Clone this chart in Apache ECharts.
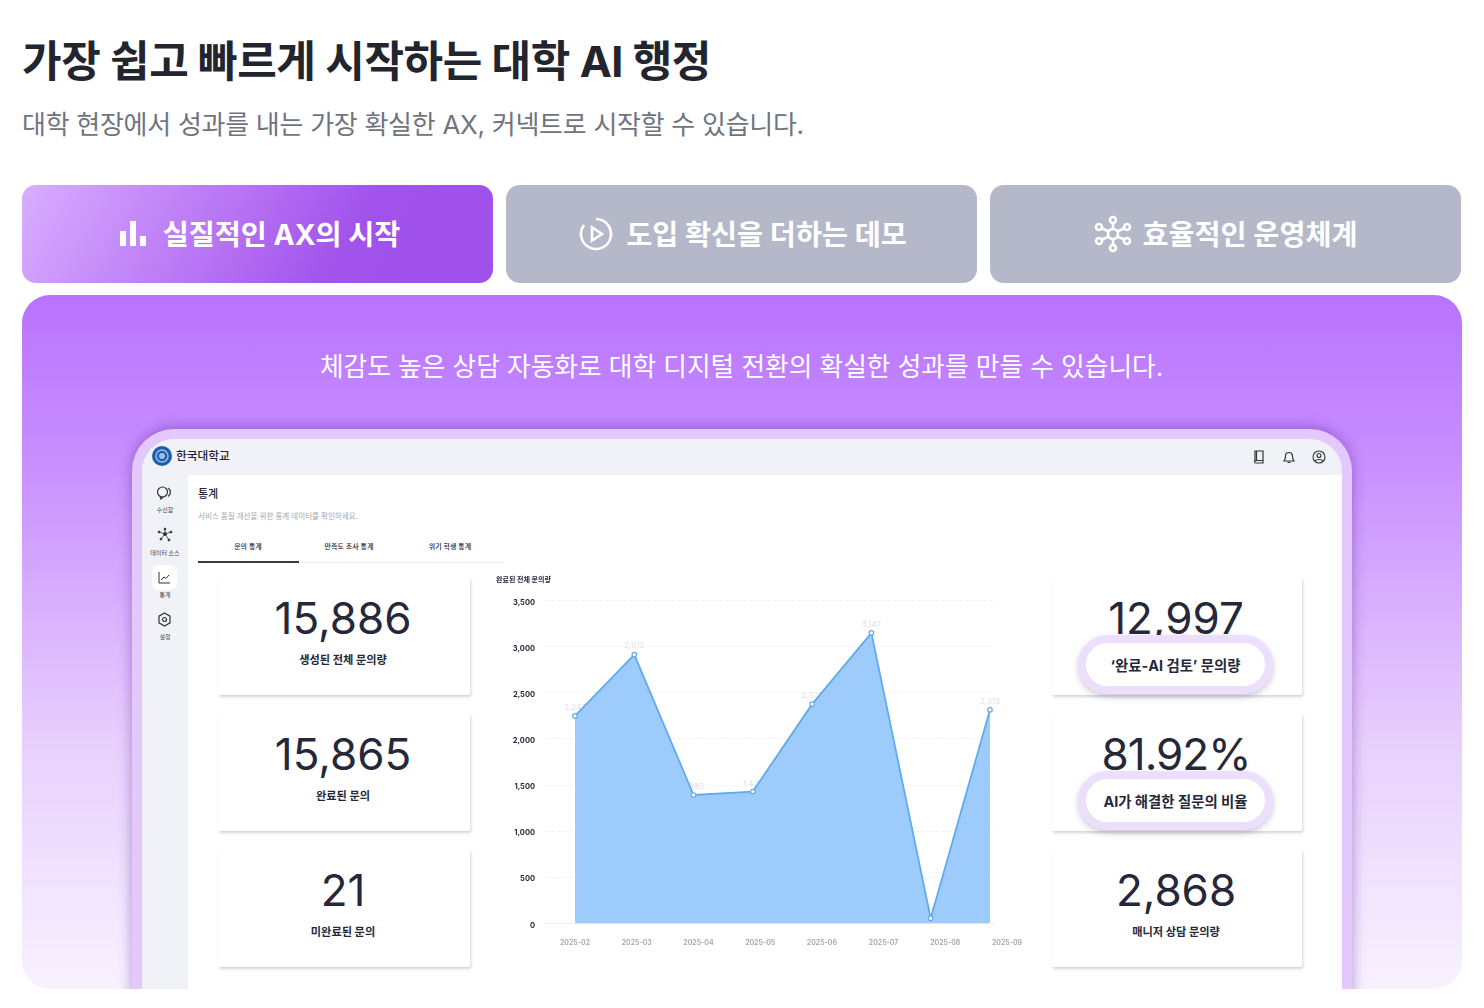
<!DOCTYPE html>
<html lang="ko"><head><meta charset="utf-8">
<script src="https://cdn.jsdelivr.net/npm/echarts@6/dist/echarts.min.js"></script>
<style>
*{box-sizing:border-box;margin:0;padding:0}
html,body{width:1484px;height:1008px;background:#fff;overflow:hidden;font-family:Inter,'Noto Sans CJK KR',sans-serif;color:#23252e}
.a{position:absolute}
.t{position:absolute;white-space:nowrap;line-height:1}
.c{transform:translateX(-50%)}
h1{position:absolute;left:22px;top:36px;font-size:43px;font-weight:700;line-height:50px;white-space:nowrap;color:#23252e;letter-spacing:-.42px}
.sub{left:22px;top:112px;font-size:26px;color:#6f7480;letter-spacing:-.28px}
.tab{position:absolute;top:185px;width:471px;height:98px;border-radius:14px;background:#b5b8c8;color:#fff;font-size:28.3px;font-weight:700;display:flex;align-items:center;justify-content:center;padding-bottom:1px}
.tab span{position:relative;top:-1px}
.tab.on{background:linear-gradient(118deg,#d9aeff 0%,#c184f7 30%,#a253ec 68%,#a050eb 100%)}
.panel{position:absolute;left:22px;top:295px;width:1440px;height:694px;border-radius:28px;background:linear-gradient(180deg,#b873ff 0%,#c990ff 25%,#e8d0fd 65%,#f8f2ff 100%);overflow:hidden}
.device{position:absolute;left:110px;top:134px;width:1220px;height:700px;border-radius:42px;background:#e2c8fd;box-shadow:0 -2px 14px rgba(90,40,150,.45)}
.inner{position:absolute;left:10px;top:10px;width:1200px;height:690px;border-radius:32px 32px 0 0;background:#f0f2f7;overflow:hidden}
.content{position:absolute;left:46px;top:36px;width:1154px;height:660px;background:#fff}
.card{position:absolute;background:#fff;width:252px;height:118px;box-shadow:1px 2px 3px rgba(60,60,80,.22);border-radius:2px}
.num{position:absolute;left:0;right:0;top:17px;text-align:center;font-size:44px;line-height:48px;font-weight:400;color:#26283a;transform:translateX(-1px)}
.lab{position:absolute;left:0;right:0;top:76px;text-align:center;font-size:11.2px;line-height:14px;font-weight:700;color:#26283a;transform:translateX(-1px)}
.pill{position:absolute;left:26px;top:58px;width:195px;height:59px;border-radius:30px;background:#fff;border:8px solid #ecdffc;box-shadow:0 3px 6px rgba(60,50,90,.25);text-align:center;font-size:14.4px;font-weight:700;line-height:45px;color:#26283a}
.side{position:absolute;width:46px;text-align:center;font-size:6px;color:#444;line-height:1;left:0}
svg{display:block}
#chart{position:absolute;left:490px;top:570px;width:540px;height:400px}
</style></head><body>
<h1>가장 쉽고 빠르게 시작하는 대학 AI 행정</h1>
<div class="t sub">대학 현장에서 성과를 내는 가장 확실한 AX, 커넥트로 시작할 수 있습니다.</div>

<div class="tab on" style="left:22px;padding-left:5px">
<svg width="26" height="26" viewBox="0 0 26 26" fill="#fff" style="margin-right:17px"><rect x="0" y="10" width="6" height="15"/><rect x="10" y="0" width="6" height="25"/><rect x="20" y="15" width="6" height="10"/></svg>
<span>실질적인 AX의 시작</span></div>
<div class="tab" style="left:506px;padding-left:3px">
<svg width="34" height="34" viewBox="0 0 34 34" fill="none" stroke="#fff" stroke-width="2.6" style="margin-right:13px"><path d="M17 2a15 15 0 1 1-12 6"/><path d="M13 10.500v13l10-6.500z" fill="none"/></svg>
<span>도입 확신을 더하는 데모</span></div>
<div class="tab" style="left:990px">
<svg width="38" height="38" viewBox="0 0 38 38" fill="none" stroke="#fff" stroke-width="2.6" style="margin-right:11px"><circle cx="19" cy="19" r="5"/><circle cx="19" cy="5" r="3"/><circle cx="19" cy="33" r="3"/><circle cx="5" cy="12" r="3"/><circle cx="33" cy="12" r="3"/><circle cx="5" cy="26" r="3"/><circle cx="33" cy="26" r="3"/><path d="M19 8v6M19 24v6M8 13.500l7 3M30 13.500l-7 3M8 24.500l7-3M30 24.500l-7-3"/></svg>
<span>효율적인 운영체계</span></div>

<div class="panel">
<div class="t c" style="left:719.500px;top:59px;font-size:25.700px;color:#fff">체감도 높은 상담 자동화로 대학 디지털 전환의 확실한 성과를 만들 수 있습니다.</div>
<div class="device"><div class="inner">
  <svg class="a" style="left:10px;top:7px" width="20" height="20" viewBox="0 0 20 20"><circle cx="10" cy="10" r="10" fill="#1c5fae"/><circle cx="10" cy="10" r="6" fill="none" stroke="#9fc0e6" stroke-width="1.400"/><circle cx="10" cy="10" r="3" fill="#9fc0e6"/></svg>
  <div class="t" style="left:34px;top:12px;font-size:11.700px;font-weight:500;color:#23252e">한국대학교</div>
  <svg class="a" style="left:1111px;top:11px" width="12" height="14" viewBox="0 0 12 14" fill="none" stroke="#333" stroke-width="1.200"><path d="M2 1h8v12H3a1.500 1.500 0 0 1-1-2.500zM2 10.500h8"/><path d="M3.500 1v9"/></svg>
  <svg class="a" style="left:1141px;top:11px" width="12" height="14" viewBox="0 0 12 14" fill="none" stroke="#333" stroke-width="1.200"><path d="M1 11h10c-1.500-1.500-1.500-3-1.500-5a3.500 3.500 0 0 0-7 0c0 2 0 3.500-1.500 5z"/><path d="M4.500 12.500h3"/></svg>
  <svg class="a" style="left:1170px;top:11px" width="14" height="14" viewBox="0 0 14 14" fill="none" stroke="#333" stroke-width="1.100"><circle cx="7" cy="7" r="6"/><circle cx="7" cy="5.500" r="2"/><path d="M3.200 11c1-2 6.600-2 7.600 0"/></svg>

  <svg class="a" style="left:14px;top:47px" width="18" height="14" viewBox="0 0 18 14" fill="none" stroke="#333" stroke-width="1.200"><circle cx="6.500" cy="6" r="5"/><path d="M4 10.500l1 2.500 2-2M12 2a5 5 0 0 1 0 8.500"/></svg>
  <div class="side" style="top:68px">수신함</div>
  <svg class="a" style="left:15px;top:88px" width="16" height="16" viewBox="0 0 16 16" fill="#333" stroke="#333" stroke-width=".8"><circle cx="8" cy="7" r="1.600"/><circle cx="8" cy="2" r="1"/><circle cx="2" cy="5" r="1"/><circle cx="14" cy="5" r="1"/><circle cx="4" cy="12" r="1"/><circle cx="12" cy="13" r="1"/><path d="M8 2v5L2 5M8 7l6-2M8 7l-4 5M8 7l4 6" fill="none"/></svg>
  <div class="side" style="top:111px">데이터 소스</div>
  <div class="a" style="left:10px;top:126px;width:25px;height:25px;border-radius:7px;background:#fff"></div>
  <svg class="a" style="left:16px;top:132px" width="13" height="13" viewBox="0 0 13 13" fill="none" stroke="#333" stroke-width="1"><path d="M1 1v11h11"/><path d="M3 9l3-3 2 1.500L11 4"/></svg>
  <div class="side" style="top:153px">통계</div>
  <svg class="a" style="left:15px;top:173px" width="15" height="15" viewBox="0 0 15 15" fill="none" stroke="#333" stroke-width="1.200"><path d="M7.500 1l5.500 3.200v6.600L7.500 14 2 10.800V4.200z"/><circle cx="7.500" cy="7.500" r="2"/></svg>
  <div class="side" style="top:195px">설정</div>

  <div class="content">
    <div class="t" style="left:10px;top:14px;font-size:11px;font-weight:500;color:#26283a">통계</div>
    <div class="t" style="left:10px;top:38px;font-size:7.500px;color:#a6a8b2">서비스 품질 개선을 위한 통계 데이터를 확인하세요.</div>
    <div class="t c" style="left:60px;top:68px;font-size:7px;font-weight:500">문의 통계</div>
    <div class="t c" style="left:161px;top:68px;font-size:7px;font-weight:500">만족도 조사 통계</div>
    <div class="t c" style="left:262px;top:68px;font-size:7px;font-weight:500">위기 학생 통계</div>
    <div class="a" style="left:10px;top:87px;width:304px;height:1px;background:#eceef2"></div>
    <div class="a" style="left:10px;top:86px;width:101px;height:2px;background:#3a3c46"></div>
    <div class="card" style="left:30px;top:102px"><div class="num">15,886</div><div class="lab">생성된 전체 문의량</div></div>
    <div class="card" style="left:30px;top:238px"><div class="num">15,865</div><div class="lab">완료된 문의</div></div>
    <div class="card" style="left:30px;top:374px"><div class="num">21</div><div class="lab">미완료된 문의</div></div>
    <div class="card" style="left:864px;top:102px;width:250px"><div class="num">12,997</div><div class="pill">‘완료-AI 검토’ 문의량</div></div>
    <div class="card" style="left:864px;top:238px;width:250px"><div class="num" style="letter-spacing:-1px">81.92%</div><div class="pill">AI가 해결한 질문의 비율</div></div>
    <div class="card" style="left:864px;top:374px;width:250px"><div class="num">2,868</div><div class="lab">매니저 상담 문의량</div></div>
  </div>
</div></div>
</div>
<div id="chart"></div>
<script>
const months = ['2025-02','2025-03','2025-04','2025-05','2025-06','2025-07','2025-08','2025-09'];
const completedInquiries = [2247,2912,1390,1427,2375,3147,54,2313];
const chartTitle = '완료된 전체 문의량';
const axisMax = 3500, axisStep = 500;
const fontStack = "Inter,'Noto Sans CJK KR',sans-serif";

const chart = echarts.init(document.getElementById('chart'), null, {renderer:'canvas'});
chart.setOption({
  animation:false,
  title:{text:chartTitle,left:6,top:6.500,padding:0,textStyle:{fontSize:7,fontWeight:700,color:'#26283a',fontFamily:fontStack}},
  grid:[
    {left:55,top:30.300,width:450,height:323},
    {left:85,top:30.300,width:415,height:323},
    {left:85,top:30.300,width:432,height:323},
    {left:55,top:32.300,width:450,height:323}
  ],
  xAxis:[
    {gridIndex:0,type:'category',data:months,axisTick:{show:false},axisLabel:{show:false},axisLine:{show:true,lineStyle:{color:'#eef0f3',width:1}}},
    {gridIndex:1,type:'category',data:months,boundaryGap:false,show:false},
    {gridIndex:2,type:'category',data:months,boundaryGap:false,axisTick:{show:false},axisLine:{show:false},
     axisLabel:{interval:0,margin:16,fontSize:7,fontWeight:600,color:'#a2a4ae',fontFamily:fontStack}},
    {gridIndex:3,type:'category',data:months,show:false}
  ],
  yAxis:[
    {gridIndex:0,type:'value',min:0,max:axisMax,interval:axisStep,axisLine:{show:false},axisTick:{show:false},axisLabel:{show:false},
     splitLine:{show:true,lineStyle:{type:'dashed',color:'#f1f2f5',width:1}}},
    {gridIndex:1,type:'value',min:0,max:axisMax,interval:axisStep,show:false},
    {gridIndex:2,type:'value',min:0,max:axisMax,interval:axisStep,show:false},
    {gridIndex:3,type:'value',min:0,max:axisMax,interval:axisStep,axisLine:{show:false},axisTick:{show:false},splitLine:{show:false},
     axisLabel:{margin:10,fontSize:7.500,fontWeight:700,color:'#26283a',fontFamily:fontStack,formatter:v=>v.toLocaleString('en-US')}}
  ],
  series:[
    {type:'line',xAxisIndex:1,yAxisIndex:1,data:completedInquiries,z:1,symbol:'circle',symbolSize:1,showAllSymbol:true,itemStyle:{color:'rgba(0,0,0,0)',borderWidth:0},lineStyle:{width:0},silent:true,
     label:{show:true,position:'top',distance:4,fontSize:8,color:'#e0e1e8',fontFamily:fontStack,formatter:p=>p.value.toLocaleString('en-US')}},
    {type:'line',xAxisIndex:1,yAxisIndex:1,data:completedInquiries,z:3,symbol:'circle',symbolSize:4.500,showAllSymbol:true,
     itemStyle:{color:'#fff',borderColor:'#62abea',borderWidth:1.200},
     lineStyle:{color:'#62abea',width:1.800},areaStyle:{color:'#9ccbfc',opacity:1}},
    {type:'line',xAxisIndex:2,yAxisIndex:2,data:[],silent:true}
  ]
});
</script>
</body></html>
